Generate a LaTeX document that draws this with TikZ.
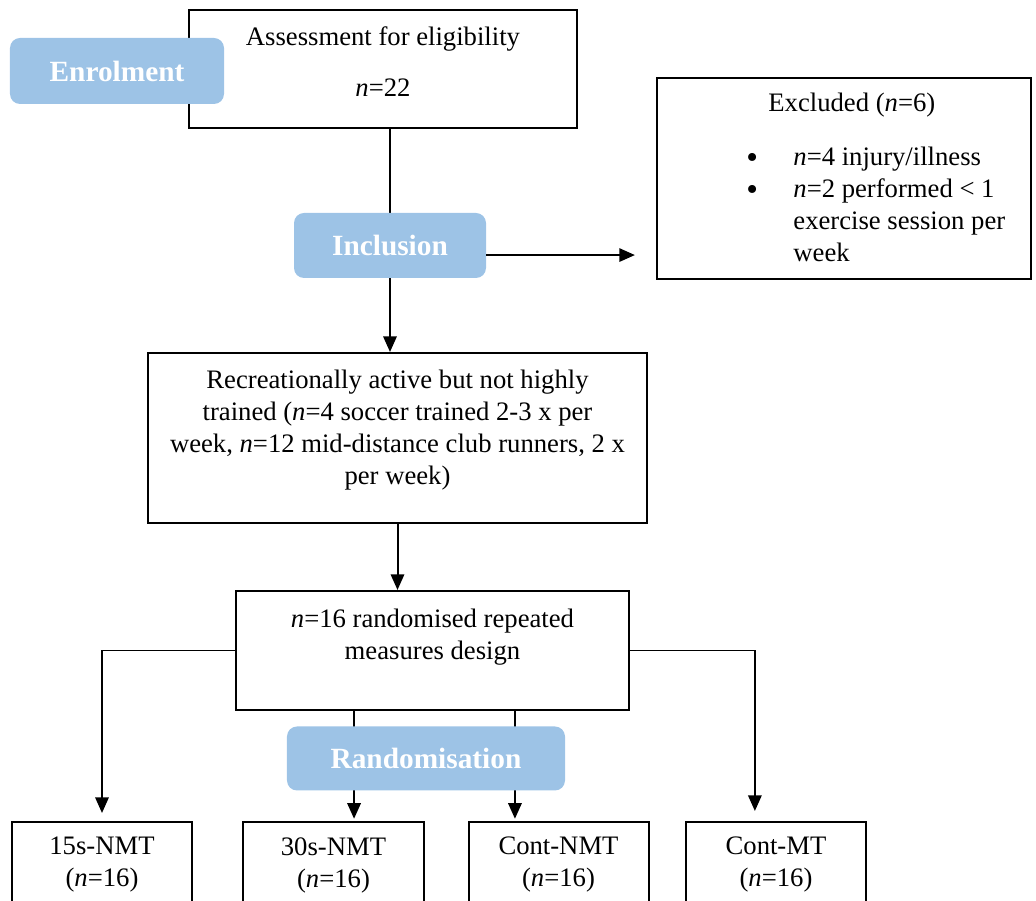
\documentclass[tikz,border=0pt]{standalone}
\usepackage{fontspec}
\setmainfont{Liberation Serif}
\usetikzlibrary{arrows.meta,positioning}

\definecolor{stageblue}{HTML}{9DC3E6}

\newcommand{\exclbullet}{\llap{\raisebox{-1.3pt}[0pt][0pt]{\fontsize{15}{15}\selectfont\textbullet}\hspace{15.9pt}}}

\tikzset{
  box/.style={draw, rectangle, line width=0.9pt, align=center, inner sep=2pt},
  stage/.style={rectangle, rounded corners=4.5pt, fill=stageblue, text=white, align=center,
                font=\fontsize{13.2}{15}\selectfont\bfseries},
  flow/.style={line width=0.9pt},
  thinflow/.style={line width=0.5pt},
  flowarrow/.style={line width=0.9pt, -{Triangle[length=7pt,width=6pt]}},
}

\begin{document}
\begin{tikzpicture}[x=0.45pt, y=-0.45pt, font=\fontsize{12}{14.4}\selectfont]
  \path[use as bounding box, clip] (0,0) rectangle (1036,901);

  % Enrolment
  \node[box, minimum width=174.6pt, minimum height=53.1pt] (assess) at (383,69)
    {Assessment for eligibility\\[8.5pt]\textit{n}=22\\[-8pt]\mbox{}};
  \node[stage, minimum width=96.3pt, minimum height=29.7pt] (enrol) at (117,71) {Enrolment};

  % Inclusion
  \node[box, minimum width=224.55pt, minimum height=76.5pt] (rec) at (397.5,438)
    {Recreationally active but not highly\\
     trained (\textit{n}=4 soccer trained 2-3 x per\\
     week, \textit{n}=12 mid-distance club runners, 2 x\\
     per week)\\[-4.5pt]\mbox{}};
  \coordinate (trunk) at (390,0);
  \draw[flowarrow] (assess.south -| trunk) -- (rec.north -| trunk);
  \node[stage, minimum width=86.4pt, minimum height=29.25pt] (incl) at (390,245.5) {Inclusion};

  % Excluded
  \node[box, minimum width=168.3pt, minimum height=90.45pt] (excl) at (844,178.5) {};
  \node[align=left, anchor=north west, inner sep=0pt] (excltext) at (768,93)
    {Excluded (\textit{n}=6)\\[9.9pt]
     \hspace*{11.25pt}\exclbullet\textit{n}=4 injury/illness\\
     \hspace*{11.25pt}\exclbullet\textit{n}=2 performed < 1\\
     \hspace*{11.25pt}exercise session per\\
     \hspace*{11.25pt}week};
  \draw[flowarrow, shorten >=9.5pt] ([yshift=-4.3pt]incl.east) -- ([yshift=-4.3pt]incl.east -| excl.west);

  % Randomisation
  \node[box, minimum width=176.85pt, minimum height=53.55pt] (rand) at (432.5,650.5)
    {\textit{n}=16 randomised repeated\\ measures design\\ \mbox{}};
  \draw[flowarrow] (rec.south) -- (rec.south |- rand.north);

  \node[box, minimum width=81pt, minimum height=38.7pt] (nmt15) at (102,865) {15s-NMT\\(\textit{n}=16)};
  \node[box, minimum width=81pt, minimum height=38.7pt] (nmt30) at (333.5,865) {30s-NMT\\(\textit{n}=16)};
  \node[box, minimum width=81pt, minimum height=38.7pt] (contnmt) at (558.5,865) {Cont-NMT\\(\textit{n}=16)};
  \node[box, minimum width=81pt, minimum height=38.7pt] (contmt) at (776,865) {Cont-MT\\(\textit{n}=16)};

  \coordinate (splitl) at ([xshift=-35.3pt]rand.south);
  \coordinate (splitr) at ([xshift=37.1pt]rand.south);
  \coordinate (mtin) at ([xshift=-9.5pt]contmt.north);
  \draw[thinflow] (rand.west) -- (rand.west -| nmt15.north);
  \draw[flowarrow, shorten >=3.6pt] (rand.west -| nmt15.north) -- (nmt15.north);
  \draw[thinflow] (rand.east) -- (rand.east -| mtin);
  \draw[flowarrow, shorten >=4.5pt] (rand.east -| mtin) -- (mtin);
  \draw[flowarrow, shorten >=1pt] (splitl) -- (splitl |- nmt30.north);
  \draw[flowarrow, shorten >=1pt] (splitr) -- (splitr |- contnmt.north);
  \node[stage, minimum width=125.1pt, minimum height=28.8pt] (randz) at (426,758.5) {Randomisation};
\end{tikzpicture}
\end{document}
